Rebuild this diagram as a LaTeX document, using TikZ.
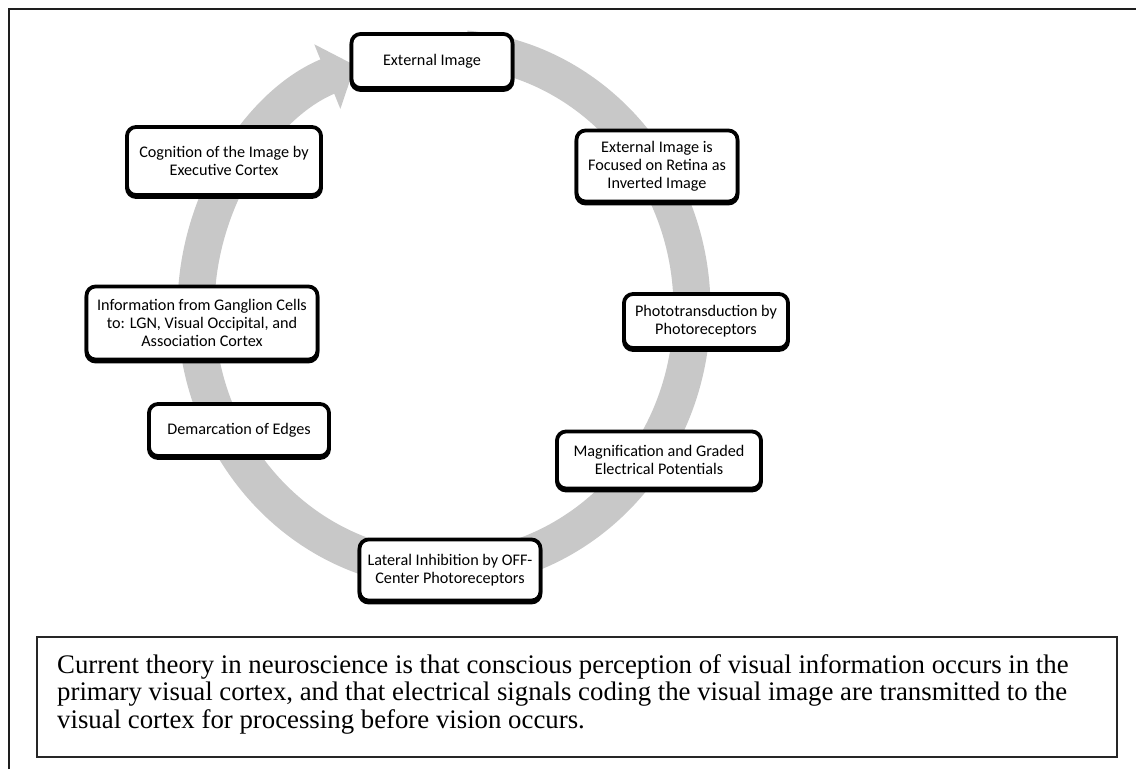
\documentclass[tikz,border=0pt]{standalone}
\usepackage{fontspec}
\setmainfont{Liberation Serif}
\newfontfamily\boxfamily{Carlito}
\usetikzlibrary{arrows.meta}
\definecolor{ringgray}{RGB}{200,200,200}
\definecolor{framegray}{RGB}{30,30,30}
\tikzset{
  procbox/.style={draw=black, line width=3.8pt, rounded corners=9pt, fill=white,
    align=center, inner sep=2pt,
    font=\boxfamily\fontsize{16.2}{18}\selectfont,
    preaction={draw=black, line width=3.8pt, transform canvas={yshift=-2pt}}},
  ringarrow/.style={draw=ringgray, line width=37pt, -{Triangle[length=30pt, width=68pt]}},
  frameline/.style={draw=framegray, line width=2pt},
  captionbox/.style={draw=black!85, line width=1.6pt},
  captiontext/.style={font=\fontsize{26.8}{27.5}\selectfont, align=left, inner sep=0pt, anchor=north west}
}
\begin{document}
\begin{tikzpicture}[x=1pt, y=1pt]
\useasboundingbox[fill=white] (0,0) rectangle (1136,-769);
% outer frame
\coordinate (fb) at (9,-769);
\coordinate (ftl) at (9,-9);
\coordinate (ftr) at (1136,-9);
\draw[frameline] (fb) -- (ftl) -- (ftr);
% ring
\coordinate (rc) at (444,-309);
\draw[ringarrow] ([shift={(85:248pt and 261pt)}]rc) arc[start angle=85, end angle=-249, x radius=248pt, y radius=261pt];
% process boxes
\node[procbox, minimum width=161pt, minimum height=54pt] (ext) at (432,-61) {External Image};
\node[procbox, minimum width=161pt, minimum height=71pt] (focus) at (657,-166) {External Image is\\Focused on Retina as\\Inverted Image};
\node[procbox, minimum width=164pt, minimum height=54pt] (photo) at (706,-321) {Phototransduction by\\Photoreceptors};
\node[procbox, minimum width=204pt, minimum height=57pt] (magn) at (659,-460) {Magnification and Graded\\Electrical Potentials};
\node[procbox, minimum width=181pt, minimum height=61pt] (lat) at (450,-570) {Lateral Inhibition by OFF-\\Center Photoreceptors};
\node[procbox, minimum width=180pt, minimum height=52pt] (dem) at (239,-430) {Demarcation of Edges};
\node[procbox, minimum width=231pt, minimum height=73pt] (info) at (202,-323) {Information from Ganglion Cells\\to: LGN, Visual Occipital, and\\Association Cortex};
\node[procbox, minimum width=194pt, minimum height=68pt] (cog) at (224,-161) {Cognition of the Image by\\Executive Cortex};
% caption
\node[captionbox, minimum width=1080pt, minimum height=120pt, anchor=north west] (cap) at (36,-636) {};
\node[captiontext] (captxt) at (57,-654) {Current theory in neuroscience is that conscious perception of visual information occurs in the\\primary visual cortex, and that electrical signals coding the visual image are transmitted to the\\visual cortex for processing before vision occurs.};
\end{tikzpicture}
\end{document}
